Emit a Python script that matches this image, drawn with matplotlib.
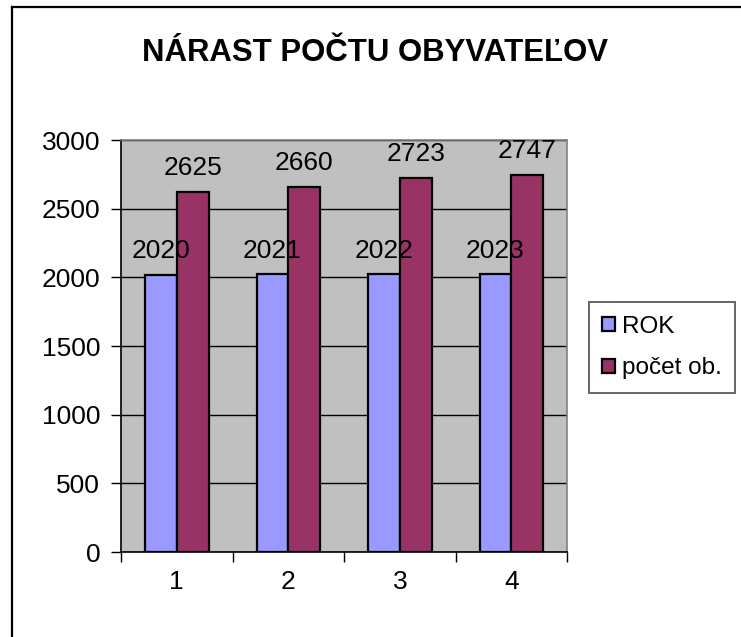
import matplotlib
matplotlib.use("Agg")
import matplotlib.pyplot as plt
import numpy as np
from matplotlib.lines import Line2D

plt.rcParams['font.family'] = ['Liberation Sans', 'DejaVu Sans']

kategorie = ["1", "2", "3", "4"]
rok = [2020, 2021, 2022, 2023]
pocet = [2625, 2660, 2723, 2747]
y_ticks = [0, 500, 1000, 1500, 2000, 2500, 3000]

fig = plt.figure(figsize=(7.41, 6.37), dpi=100)
ax = fig.add_axes([0.1633, 0.1334, 0.6020, 0.6468])

# ramik grafu - len horna a lava ciara (zvysok je orezany)
fig.add_artist(Line2D([11.5 / 741, 1.0], [1 - 6.5 / 637, 1 - 6.5 / 637],
                      transform=fig.transFigure, color="black", linewidth=1.6))
fig.add_artist(Line2D([11.5 / 741, 11.5 / 741], [0.0, 1 - 6.5 / 637],
                      transform=fig.transFigure, color="black", linewidth=1.6))

x = np.arange(len(kategorie))
w = 0.285
ax.set_facecolor("#C0C0C0")
ax.set_axisbelow(True)
ax.yaxis.grid(True, color="black", linewidth=1)

b1 = ax.bar(x - w / 2, rok, w, color="#9999FF", edgecolor="black", linewidth=1.6, label="ROK")
b2 = ax.bar(x + w / 2, pocet, w, color="#993366", edgecolor="black", linewidth=1.6, label="počet ob.")

for bars in (b1, b2):
    for b in bars:
        ax.annotate(str(int(b.get_height())), (b.get_x() + b.get_width() / 2, b.get_height()),
                    xytext=(0, 12), textcoords="offset points", ha="center", va="baseline",
                    fontsize=19, zorder=5)

ax.set_xlim(-0.5, len(kategorie) - 0.5)
ax.set_ylim(0, 3000)
ax.set_yticks(y_ticks)
ax.set_xticks(x)
ax.set_xticklabels(kategorie)
ax.set_xticks(np.arange(-0.5, len(kategorie), 1), minor=True)
ax.tick_params(axis="x", which="major", length=0, labelsize=19, pad=13)
ax.tick_params(axis="x", which="minor", length=7, width=1, direction="out")
ax.tick_params(axis="y", length=7, width=1, labelsize=19, pad=8)

for s in ["top", "right"]:
    ax.spines[s].set_color("#808080")
    ax.spines[s].set_linewidth(1.2)
for s in ["left", "bottom"]:
    ax.spines[s].set_color("black")
    ax.spines[s].set_linewidth(1.2)

fig.text(375 / 741, 1 - 53 / 637, "NÁRAST POČTU OBYVATEĽOV", ha="center", va="center",
         fontsize=22.4, fontweight="bold")

leg = fig.legend(loc="center left", bbox_to_anchor=(589 / 741, 1 - 347.5 / 637),
                 fontsize=17.5, frameon=True, fancybox=False, edgecolor="#404040",
                 handlelength=0.5, handleheight=0.5, handletextpad=0.3,
                 labelspacing=0.8, borderpad=0.55, borderaxespad=0)
leg.get_frame().set_linewidth(1.4)

fig.savefig("out.png", dpi=100)
